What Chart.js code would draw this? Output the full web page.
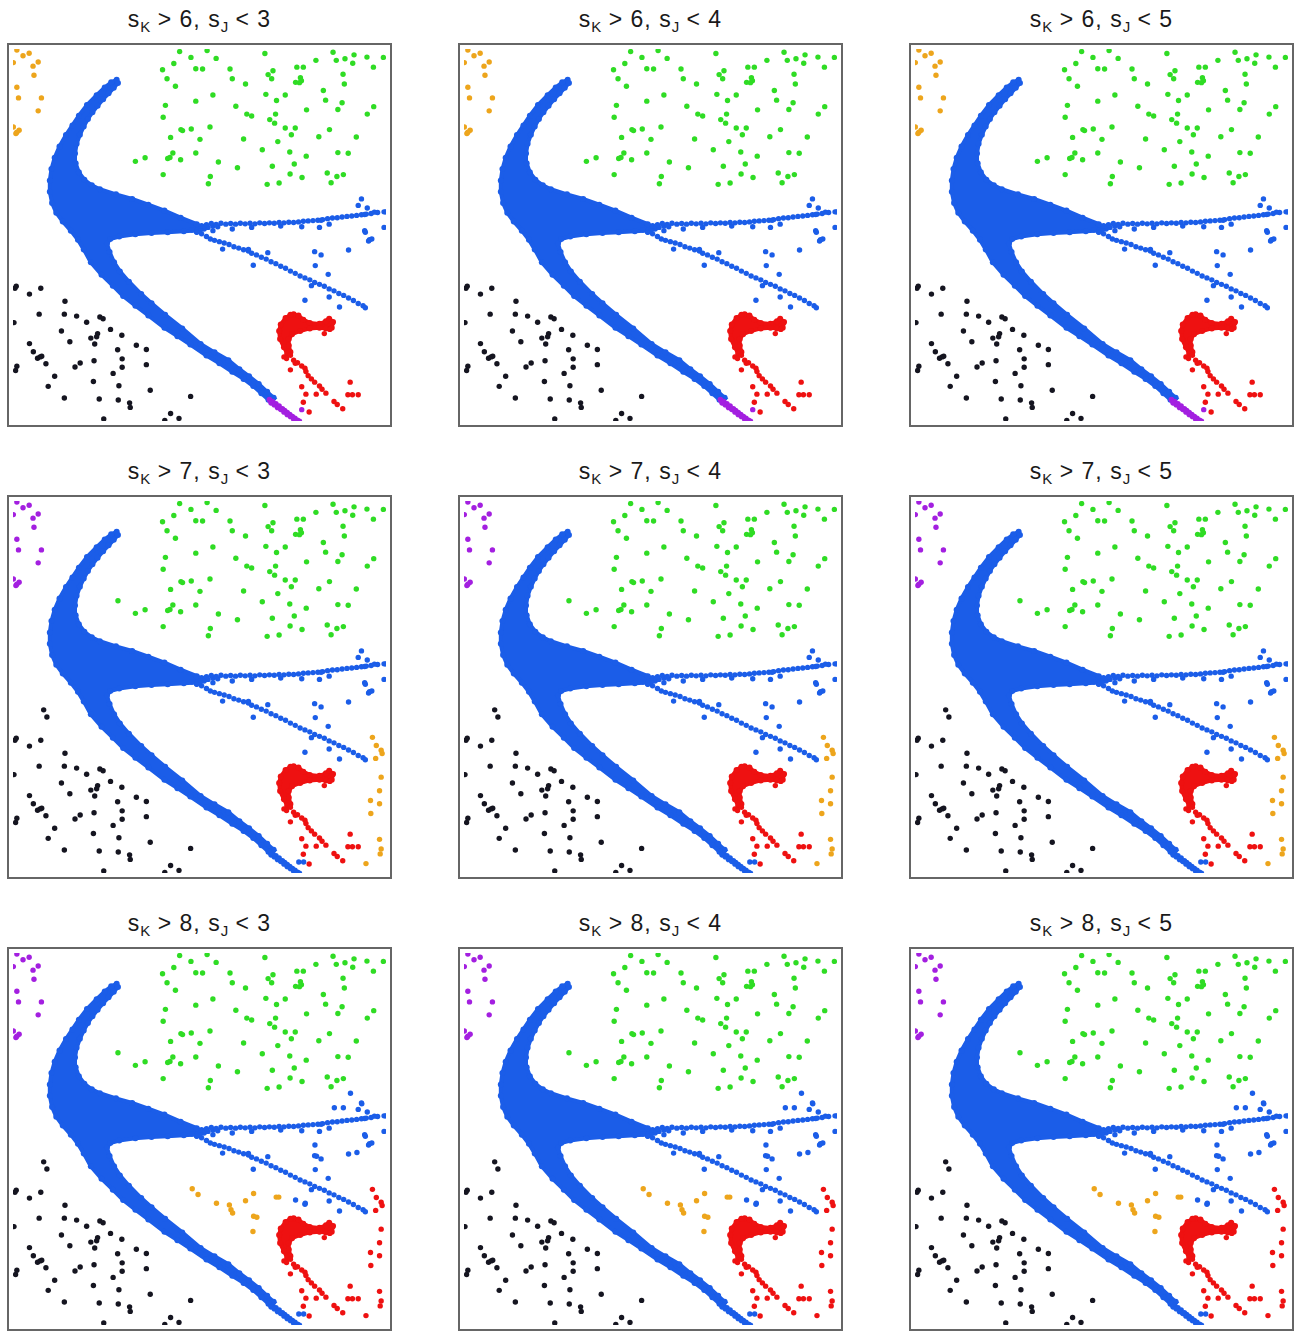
<!DOCTYPE html>
<html>
<head>
<meta charset="utf-8">
<script src="https://cdn.jsdelivr.net/npm/chart.js@4.4.0/dist/chart.umd.min.js"></script>
<style>
  body { margin: 0; background: #fff; font-family: "Liberation Sans", Arial, sans-serif; }
  #page { position: relative; width: 1296px; height: 1331px; overflow: hidden; }
  .title { position: absolute; width: 385px; text-align: center; font-size: 23px; line-height: 23px; letter-spacing: 1px; color: #1a1a1a; white-space: nowrap; }
  .title sub { font-size: 15px; vertical-align: -5px; line-height: 0; letter-spacing: 0; }
  .frame { position: absolute; width: 385px; height: 384px; box-sizing: border-box; border: 2px solid #666; }
  .frame canvas { display: block; }
</style>
</head>
<body>
<div id="page"></div>
<script>
// thresholds shown in the panel titles
const kLimits = [6, 7, 8];
const jLimits = [3, 4, 5];

// all positions below are in the same plot units for every panel
const greenPts = [
  [537,137],[572,155],[484,193],[519,174],[587,190],[498,221],[524,244],[587,290],[493,303],[486,340],
  [541,378],[546,381],[573,376],[509,402],[600,408],[516,450],[587,450],[400,476],[430,465],[500,467],
  [507,464],[540,471],[486,517],
  [622,134],[650,158],[608,191],[693,191],[700,221],[741,237],[801,143],[826,196],[811,208],[822,221],
  [900,185],[920,185],[959,164],[1012,139],[1022,164],[1049,159],[1077,147],[1073,173],[1117,154],[1137,185],
  [1168,155],[1043,207],[1047,237],[911,218],[914,227],[896,232],[908,233],[982,257],[640,271],[804,269],
  [864,271],[837,288],[989,287],[1040,295],[711,306],[745,330],[760,336],[834,330],[816,347],[831,358],
  [930,317],[1027,316],[1138,307],[1118,330],[631,370],[864,373],[895,373],[883,394],[1001,378],[735,407],
  [841,415],[968,400],[1084,401],[793,440],[878,447],[929,460],[1027,449],[1059,451],[657,478],[716,496],
  [824,491],[892,484],[879,515],[916,526],[994,512],[1024,523],[1044,517],[1006,542],[632,523],[626,545],
  [808,547],[845,543]
];

const blackPts = [
  [27,868],[31,862],[72,886],[107,868],[182,908],[24,974],[102,948],[180,948],[218,954],[249,973],
  [290,957],[300,962],[171,1000],[262,1022],[283,1008],[280,1018],[274,1040],[323,995],[358,1013],[197,1033],
  [72,1039],[84,1064],[97,1084],[105,1080],[110,1078],[123,1101],[33,1109],[29,1122],[213,1111],[229,1099],
  [272,1092],[345,1058],[403,1044],[434,1057],[359,1086],[359,1112],[434,1104],[331,1131],[150,1140],[130,1171],
  [270,1156],[349,1169],[446,1183],[180,1207],[288,1210],[347,1213],[382,1222],[384,1236],[571,1202],[302,1272],
  [491,1276],[509,1255],[535,1270]
];
const blackExtra = [[116,774],[126,796]];
const greenExtra = [[346,437]];

// dense part of the blue sequence (outline of the filled region)
const blueBody = [
  [342,224],[325,232],[305,248],[280,272],[250,302],[225,335],[205,365],[185,395],[165,430],[150,465],
  [140,500],[135,535],[135,570],[142,605],[155,635],[175,662],[200,690],[222,718],[240,748],[262,788],
  [295,826],[330,860],[362,892],[400,922],[440,952],[490,990],[530,1016],[570,1042],[620,1076],[660,1100],
  [700,1126],[735,1148],[765,1170],[790,1192],[812,1212],
  [828,1206],[808,1188],[782,1164],[752,1140],[722,1118],[688,1090],[645,1066],[602,1040],[545,992],[492,950],
  [450,914],[418,886],[380,848],[352,816],[334,788],[320,756],[312,730],
  [322,716],[350,708],[400,701],[450,697],[500,695],[550,692],[590,690],[612,684],
  [590,670],[540,650],[490,628],[440,610],[390,592],[340,578],[290,562],[265,550],[242,533],[225,510],
  [215,482],[213,452],[218,422],[228,394],[240,368],[253,345],[267,324],[283,304],[300,284],[317,266],
  [333,249],[346,234]
];

const upperBranch = [
  [605,675],[615,678],[625,680],[600,690],[590,695],[640,676],[655,678],
  [620,672],[635,668],[650,671],[665,667],[680,670],[695,668],[710,670],[725,667],[740,669],[755,667],
  [770,669],[785,666],[800,668],[815,666],[830,667],[845,665],[860,666],[875,664],[890,665],[905,663],
  [920,661],[935,660],[950,659],[965,658],[980,656],[995,653],[1010,651],[1025,650],[1040,648],[1055,646],
  [1070,645],[1085,643],[1100,641],[1115,639],[1130,637],[1150,634],[1170,632]
];

const midBranch = [
  [575,688],[590,694],[605,700],[620,708],[632,716],[645,720],[660,724],[675,728],[690,733],[705,740],
  [720,744],[735,749],[750,753],[760,760],[775,765],[790,772],[805,778],[820,786],[835,792],[850,800],
  [865,806],[880,815],[895,822],[910,830],[925,836],[940,842],[955,850],[970,856],[985,862],[1000,870],
  [1015,876],[1030,884],[1045,890],[1060,898],[1075,906],[1090,915],[1105,922],[1112,928]
];

const blueScatter = [
  [670,747],[750,748],[810,758],[765,797],[955,755],[975,765],[957,798],[997,825],[1060,750],[925,905],
  [1032,926],[1000,895],[945,860],[915,678],[970,680],[1000,670],[975,658],[1100,592],[1090,612],[1118,620],
  [1110,640],[1140,633],[1175,632],[1110,690],[1122,722],[1132,716],[1170,680],[1112,695],[1125,718],[700,685],
  [760,680],[850,676],[640,690]
];
const blueExtra = [[1066,562],[1101,595],[1016,607],[1044,607],[956,722],[961,757],[896,892],[926,902],[1086,745]];

// end of the lower branch: purple in the first row, blue below
const lowerTail = [
  [815,1212],[825,1218],[835,1225],[845,1232],[855,1240],[862,1246],[870,1252],[878,1258],[886,1264],[894,1270],
  [902,1276],[908,1279],[820,1222],[830,1228],[840,1236],[850,1242],[860,1250],[870,1258],[880,1264],[890,1272],
  [898,1278]
];
const tailDot = [[915,1243]];
const tailDots = [[906,1244],[921,1244]];

const redBody = [
  [890,948],[905,952],[920,965],[940,975],[970,978],[990,970],[1000,962],[1012,972],[1008,990],[990,992],
  [970,990],[940,992],[910,1000],[885,1010],[875,1025],[875,1045],[880,1065],[870,1070],[860,1050],[848,1025],
  [845,1000],[850,980],[865,960],[880,950]
];
const redPts = [
  [985,1008],[1002,995],[860,1080],[880,1075],[890,1090],[902,1098],[915,1108],[925,1115],[928,1125],[880,1120],
  [935,1138],[945,1148],[955,1158],[970,1170],[978,1180],[990,1192],[915,1172],[928,1195],[960,1195],[920,1220],
  [1015,1218],[1025,1227],[1042,1240],[938,1250],[1065,1158],[1058,1197],[1072,1197],[1090,1197],[868,1085],[895,1100],
  [1010,975]
];

// small groups that change colour from row to row
const cornerPts = [
  [33,132],[52,150],[71,142],[22,171],[83,182],[99,169],[86,210],[33,247],[38,280],[109,280],
  [99,320],[22,370],[30,390],[40,380],[33,386]
];
const edgePts = [
  [1134,859],[1146,884],[1161,899],[1164,909],[1144,924],[1161,982],[1156,1024],[1128,1054],[1156,1064],[1129,1094],
  [1156,1174],[1161,1204],[1158,1219],[1114,1249]
];
const midPts = [
  [576,857],[594,875],[651,902],[691,907],[696,922],[701,932],[741,894],[766,872],[766,942],[776,945],
  [764,989],[836,883],[844,883]
];

const COLORS = {
  blue: '#1b5de8',
  green: '#2fdc24',
  black: '#151520',
  red: '#ee1111',
  orange: '#eda51c',
  purple: '#a31fe0'
};

const panelLeft = [7, 458, 909];
const panelTop = [43, 495, 947];

function toXY(list) {
  return list.map(([x, y]) => ({ x, y }));
}

function dots(list, color, radius = 2.7) {
  return {
    data: toXY(list),
    showLine: false,
    pointRadius: radius,
    pointBackgroundColor: color,
    pointBorderWidth: 0,
    clip: 0
  };
}

function blob(list, color) {
  return {
    data: toXY(list),
    showLine: true,
    fill: 'shape',
    tension: 0,
    backgroundColor: color,
    borderColor: color,
    borderWidth: 4,
    pointRadius: 3,
    pointBackgroundColor: color,
    pointBorderWidth: 0,
    clip: 0
  };
}

function rowDatasets(row) {
  const sets = [];
  if (row === 0) {
    sets.push(dots(cornerPts, COLORS.orange));
    sets.push(dots(lowerTail, COLORS.purple, 2.8));
    sets.push(dots(tailDot, COLORS.purple));
  } else {
    sets.push(dots(cornerPts, COLORS.purple));
    sets.push(dots(lowerTail, COLORS.blue, 2.8));
    sets.push(dots(tailDots, COLORS.blue));
    sets.push(dots(blackExtra, COLORS.black));
    sets.push(dots(greenExtra, COLORS.green));
  }
  if (row === 1) sets.push(dots(edgePts, COLORS.orange));
  if (row === 2) {
    sets.push(dots(edgePts, COLORS.red));
    sets.push(dots(midPts, COLORS.orange));
    sets.push(dots(blueExtra, COLORS.blue));
  }
  sets.push(dots(redPts, COLORS.red));
  sets.push(blob(redBody, COLORS.red));
  sets.push(dots(blueScatter, COLORS.blue));
  sets.push(dots(upperBranch, COLORS.blue, 2.7));
  sets.push(dots(midBranch, COLORS.blue, 2.7));
  sets.push(blob(blueBody, COLORS.blue));
  sets.push(dots(blackPts, COLORS.black));
  sets.push(dots(greenPts, COLORS.green));
  return sets;
}

function renderPanel(row, col) {
  const page = document.getElementById('page');
  const left = panelLeft[col];
  const top = panelTop[row];

  const title = document.createElement('div');
  title.className = 'title';
  title.style.left = left + 'px';
  title.style.top = (top - 35) + 'px';
  title.innerHTML = `s<sub>K</sub> &gt; ${kLimits[row]}, s<sub>J</sub> &lt; ${jLimits[col]}`;
  page.appendChild(title);

  const frame = document.createElement('div');
  frame.className = 'frame';
  frame.style.left = left + 'px';
  frame.style.top = top + 'px';
  const canvas = document.createElement('canvas');
  canvas.width = 381;
  canvas.height = 380;
  frame.appendChild(canvas);
  page.appendChild(frame);

  new Chart(canvas.getContext('2d'), {
    type: 'scatter',
    data: { datasets: rowDatasets(row) },
    options: {
      responsive: false,
      animation: false,
      events: [],
      layout: { padding: 0 },
      scales: {
        x: { type: 'linear', min: 21, max: 1176, display: false },
        y: { type: 'linear', min: 129, max: 1278, reverse: true, display: false }
      },
      plugins: {
        legend: { display: false },
        tooltip: { enabled: false }
      }
    }
  });
}

for (let r = 0; r < kLimits.length; r++) {
  for (let c = 0; c < jLimits.length; c++) {
    renderPanel(r, c);
  }
}
</script>
</body>
</html>
